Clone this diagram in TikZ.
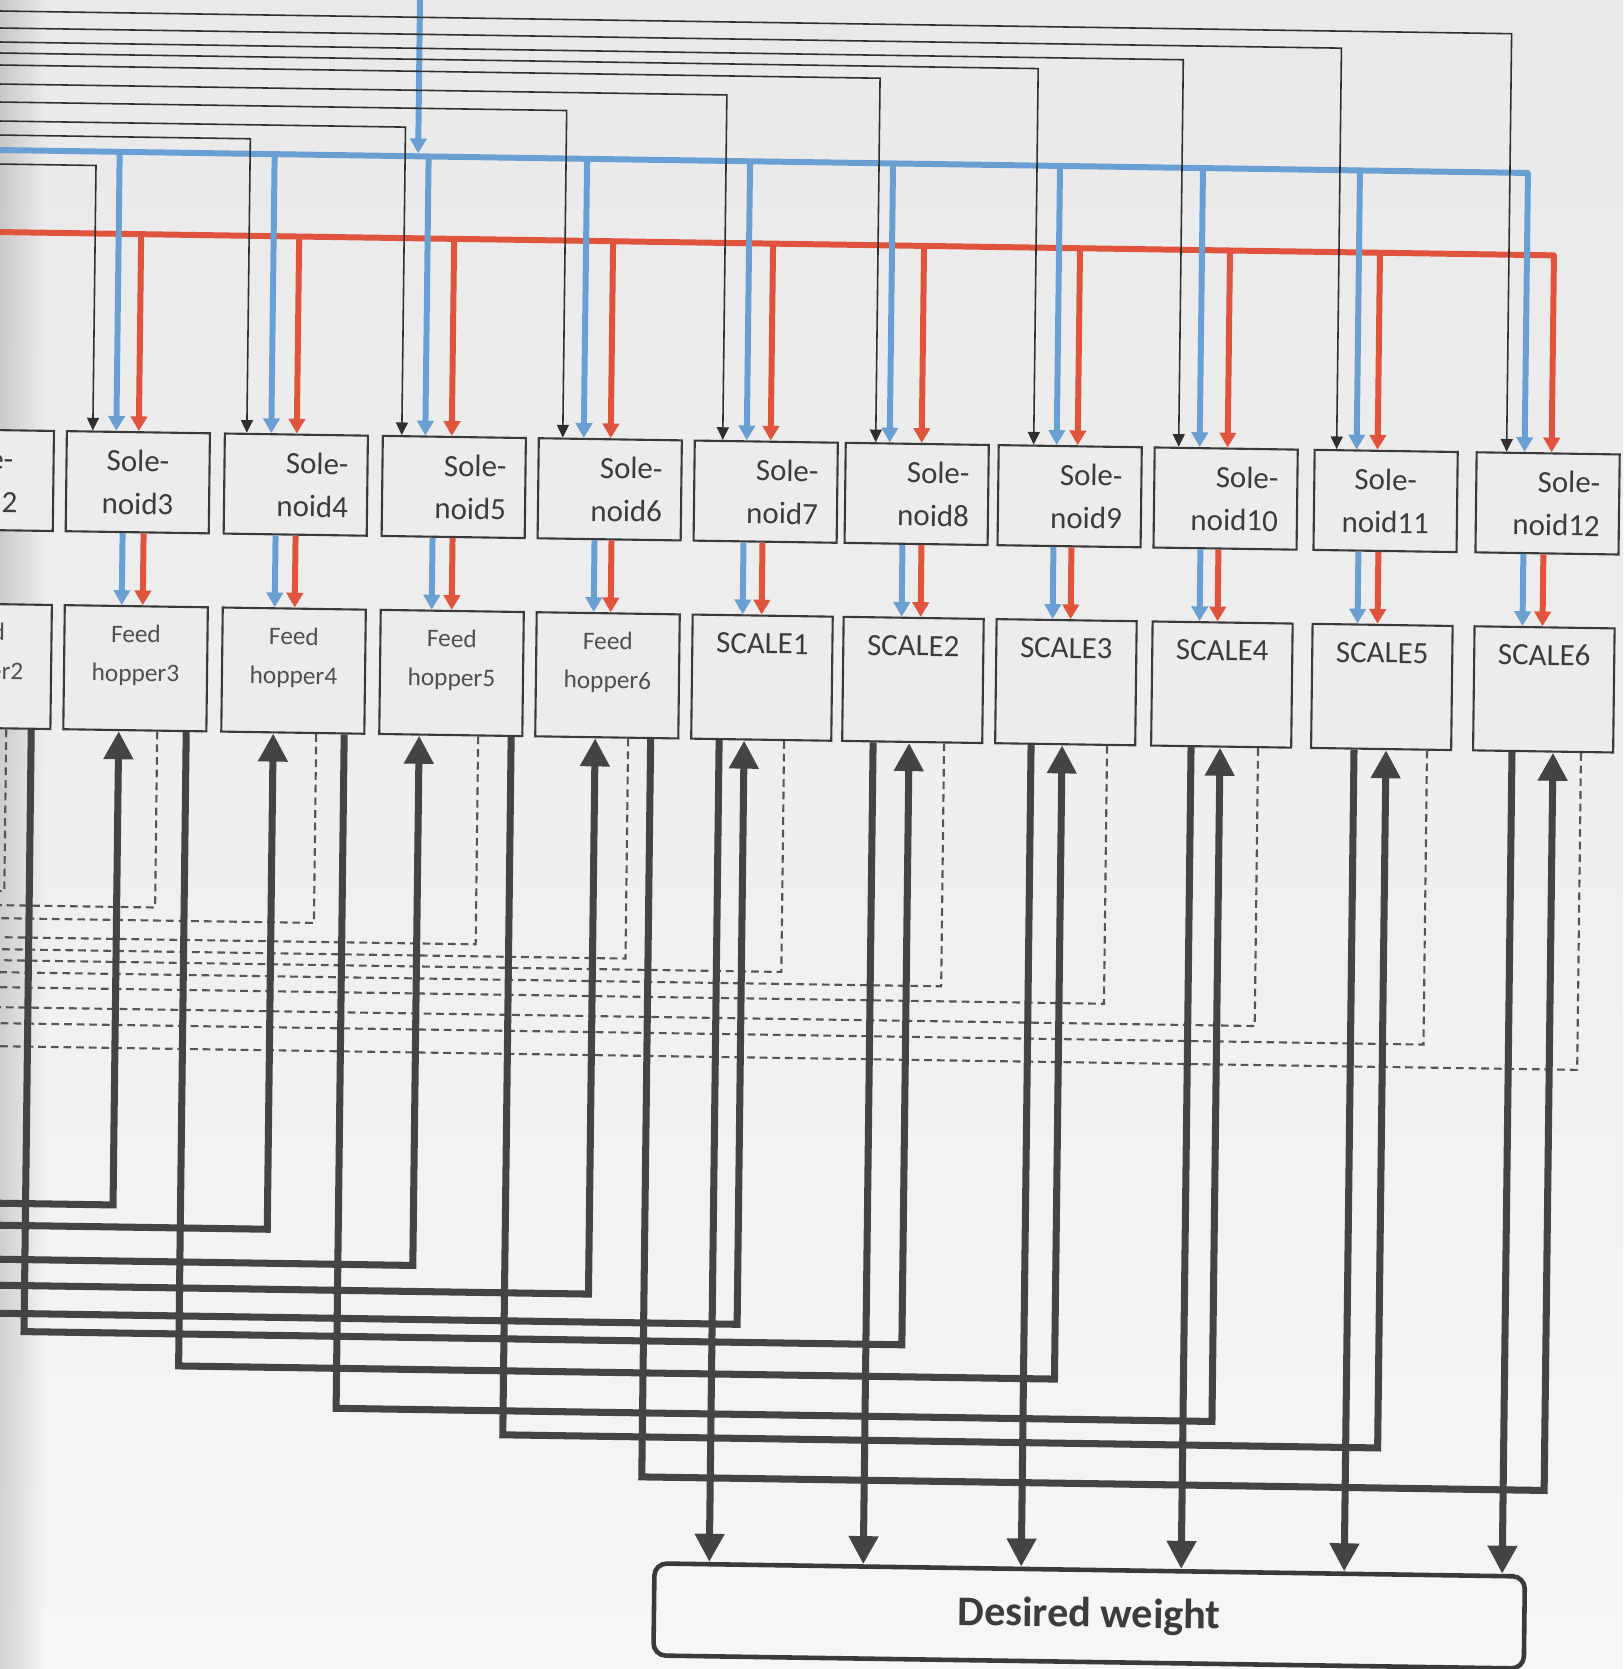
\documentclass[tikz,border=0pt]{standalone}
\usepackage{fontspec}
\setmainfont{Carlito}
\usetikzlibrary{arrows.meta,fadings}
\definecolor{bgtop}{HTML}{E9E9E9}
\definecolor{bgbot}{HTML}{F7F5F5}
\definecolor{boxfill}{HTML}{ECECEC}
\definecolor{boxline}{HTML}{3A3A3A}
\definecolor{linec}{HTML}{2F2F2F}
\definecolor{thickc}{HTML}{444444}
\definecolor{dashc}{HTML}{555555}
\definecolor{bluec}{HTML}{6A9FD4}
\definecolor{redc}{HTML}{E0533C}
\definecolor{txtc}{HTML}{3C3C3C}
\definecolor{txtl}{HTML}{505050}
\tikzset{
  solbox/.style={draw=boxline, line width=0.6pt, fill=boxfill, rectangle,
    minimum width=1.43cm, minimum height=1.0cm, text width=1.05cm,
    inner xsep=0.19cm, inner ysep=0pt, font=\fontsize{8.8}{12.2}\selectfont, text=txtc},
  lowbox/.style={draw=boxline, line width=0.6pt, fill=boxfill, rectangle,
    minimum height=1.24cm, inner sep=0pt},
  hoptext/.style={inner sep=0pt, align=center, font=\fontsize{7.2}{11.1}\selectfont, text=txtl},
  sctext/.style={inner sep=0pt, font=\fontsize{8.8}{10}\selectfont, text=txtc},
  dwbox/.style={draw=boxline, line width=1.3pt, fill=bgbot, rounded corners=3.5pt,
    minimum width=8.7cm, minimum height=0.92cm, inner sep=0pt,
    font=\bfseries\fontsize{12}{14}\selectfont, text=txtc},
  ctl/.style={draw=linec, line width=0.45pt, -{Triangle[length=3.6pt,width=3.4pt]}},
  blu/.style={draw=bluec, line width=1.7pt, line join=round, -{Triangle[length=4.2pt,width=4.6pt]}},
  rdd/.style={draw=redc, line width=1.7pt, line join=round, -{Triangle[length=4.2pt,width=4.6pt]}},
  thk/.style={draw=thickc, line width=2pt, -{Triangle[length=8pt,width=8pt]}},
  dsh/.style={draw=dashc, line width=0.6pt, dash pattern=on 2.2pt off 1.4pt},
}
\begin{document}
\begin{tikzpicture}[x=0.01cm,y=-0.01cm]
\useasboundingbox (0,0) rectangle (1623,1669);
\shade[top color=bgtop, bottom color=bgbot] (0,0) rectangle (1623,1669);
\fill[black, opacity=0.14, path fading=east] (0,0) rectangle (45,1669);
\clip (0,0) rectangle (1623,1669);
\begin{scope}[transform canvas={xslant=0.012, yslant=-0.015}]
% ---------- solenoid boxes ----------
\foreach \i/\L/\al in {2/-85/center,3/71/center,4/229/right,5/387/right,6/543/right,7/699/right,8/850/right,9/1003/right,10/1159/right,11/1319/center,12/1481/right}
  \node[solbox, align=\al, anchor=north west] (s\i) at (\L,429) {Sole-\\noid\i};
% ---------- feed hoppers ----------
\foreach \i/\L in {2/-85,3/71,4/229,5/387,6/543}{
  \node[lowbox, minimum width=1.43cm, anchor=north west] (l\i) at (\L,603) {};
  \node[hoptext, anchor=north] (t\i) at ([yshift=-0.19cm]l\i.north) {Feed\\hopper\i};
}
% ---------- scales ----------
\foreach \i/\L/\k in {7/699/1,8/850/2,9/1003/3,10/1159/4,11/1319/5,12/1481/6}{
  \node[lowbox, minimum width=1.40cm, anchor=north west] (l\i) at (\L,603) {};
  \node[sctext, anchor=base] (t\i) at ([yshift=-0.39cm]l\i.north) {SCALE\k};
}
% ---------- desired weight ----------
\node[dwbox, anchor=north west] (dw) at (671,1551) {Desired weight};

% ---------- red supply ----------
\foreach \i/\x in {3/144,4/302,5/457,6/616,7/776,8/927,9/1083,10/1233,11/1383}
  \draw[rdd] (\x,232) -- (\x,0 |- s\i.north);
\draw[rdd] (-40,232) -- (1557,232) -- (1557,0 |- s12.north);
% ---------- blue supply ----------
\coordinate (bin) at (420,-30);
\draw[blu] (bin) -- (420,147);
\foreach \i/\x in {3/121.5,4/276.5,5/430.5,6/589,7/752,8/895,9/1062,10/1205,11/1362}
  \draw[blu] (\x,150) -- (\x,0 |- s\i.north);
\draw[blu] (-40,150) -- (1530,150) -- (1530,0 |- s12.north);
% ---------- control lines ----------
\foreach \i/\x/\y in {3/98/164,4/252/135,5/407/121,6/568/102,7/728/84,8/881/65,9/1039/53,10/1184/42,11/1342/28,12/1512/11}
  \draw[ctl] (-40,\y) -- (\x,\y) -- (\x,0 |- s\i.north);
% ---------- solenoid -> hopper / scale ----------
\foreach \i/\b/\r in {3/129/150,4/282/302,5/439/459,6/601/618,7/750/769,8/909/928,9/1060/1078,10/1207/1225,11/1365/1385,12/1530/1550}{
  \draw[blu] (\b,0 |- s\i.south) -- (\b,0 |- l\i.north);
  \draw[rdd] (\r,0 |- s\i.south) -- (\r,0 |- l\i.north);
}
% ---------- dashed signal lines ----------
\foreach \i/\x/\y in {2/15/891,3/166/905,4/325/918,5/487/937,6/637/949,7/793/960,8/953/972,9/1116/987,10/1267/1007,11/1436/1023,12/1590/1046}
  \draw[dsh] (\x,0 |- l\i.south) |- (-40,\y);
% ---------- feed into hoppers and scale 1 ----------
\foreach \i/\x/\y in {3/127.5/1203,4/282/1225,5/428/1259,6/604/1285,7/753/1313}
  \draw[thk] (-40,\y) -| (\x,0 |- l\i.south);
% ---------- hopper -> scale ----------
\foreach \i/\ox/\y/\j/\ux in {2/40/1331/8/918,3/195/1363/9/1071,4/353/1403/10/1229,5/520/1427/11/1395,6/659.5/1467/12/1562}
  \draw[thk] (\ox,0 |- l\i.south) -- (\ox,\y) -| (\ux,0 |- l\j.south);
% ---------- scale -> desired weight ----------
\foreach \i/\x in {7/728,8/882,9/1040,10/1200,11/1363,12/1521}
  \draw[thk] (\x,0 |- l\i.south) -- (\x,0 |- dw.north);
\end{scope}
\end{tikzpicture}
\end{document}
